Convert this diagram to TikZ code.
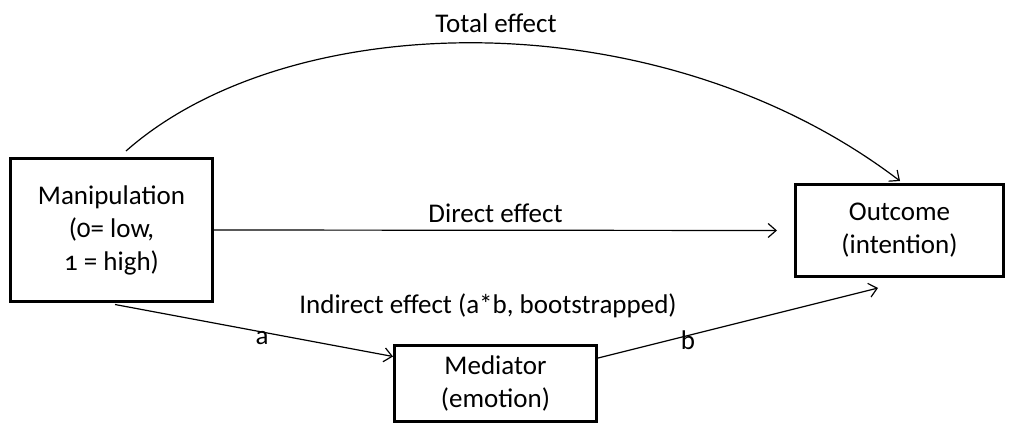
\documentclass[tikz,border=0pt]{standalone}
\usepackage{fontspec}
\setmainfont{Carlito}[Numbers=OldStyle]
\usetikzlibrary{arrows.meta,calc}
\begin{document}
\begin{tikzpicture}[x=1pt,y=-1pt,
  box/.style={draw,line width=3pt,inner sep=0pt,align=center,
    font=\fontsize{27}{33}\selectfont},
  lab/.style={font=\fontsize{27}{32}\selectfont,inner sep=0pt},
  arr/.style={line width=1.2pt,-{Straight Barb[length=8pt,width=14pt,line width=1.2pt]}}]
\useasboundingbox (0,0) rectangle (1009,426);
\node[box,minimum width=202pt,minimum height=143pt] (man) at (111.5,230) {Manipulation\\(0= low,\\1 = high)};
\node[box,minimum width=208pt,minimum height=92pt] (out) at (899.5,230.5) {Outcome\\(intention)};
\node[box,minimum width=202pt,minimum height=76pt] (med) at (495.5,383.5) {Mediator\\(emotion)};
\coordinate (ts) at ($(man.north)+(14.5,-6)$);
\coordinate (te) at ($(out.north)+(0.5,-2)$);
\draw[arr] (ts) .. controls (290,6) and (660,-2) .. (te);
\draw[arr,shorten >=17pt] (man.east) -- (out.west);
\draw[arr] ($(man.south)+(3.5,1.5)$) -- ($(med.west)+(0,-27)$);
\draw[arr] ($(med.east)+(0,-25.5)$) -- ($(out.south)+(-21.5,10)$);
\node[lab] (tl) at (496,23) {Total effect};
\node[lab] (dl) at (495.5,213) {Direct effect};
\node[lab] (il) at (488,306) {Indirect effect (a*b, bootstrapped)};
\node[lab] (al) at (262,338) {a};
\node[lab] (bl) at (688,340) {b};
\end{tikzpicture}
\end{document}
